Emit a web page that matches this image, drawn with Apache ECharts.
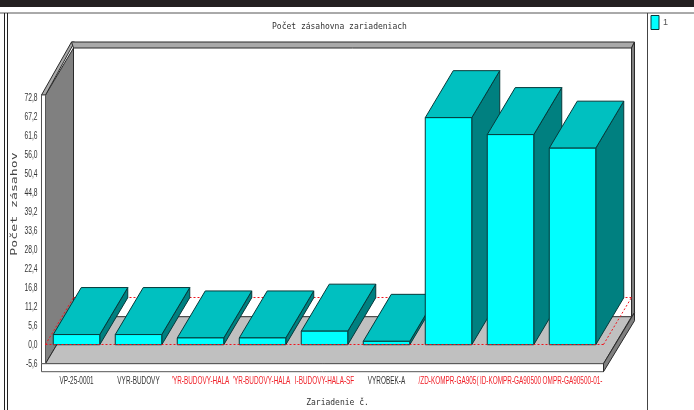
<!DOCTYPE html>
<html>
<head>
<meta charset="utf-8">
<style>html,body{margin:0;padding:0;background:#fff}#chart{width:694px;height:410px}</style>
<script src="https://cdn.jsdelivr.net/npm/echarts@6/dist/echarts.min.js"></script>
</head>
<body>
<div id="chart"></div>
<script>
// Device names as printed under the axis
const categories = ["VP-25-0001", "VYR-BUDOVY", "'YR-BUDOVY-HALA", "'YR-BUDOVY-HALA ", "I-BUDOVY-HALA-SF", "VYROBEK-A", "/ZD-KOMPR-GA905(", "ID-KOMPR-GA90500", "OMPR-GA90500-01-"];
// Number of call-outs per device
const values = [3, 3, 2, 2, 4, 1, 67, 62, 58];
// Red marks devices flagged in the source system
const labelColors = ["#333", "#333", "#f0222a", "#f0222a", "#f0222a", "#333", "#f0222a", "#f0222a", "#f0222a"];
const yTicks = [-5.6, 0, 5.6, 11.2, 16.8, 22.4, 28, 33.6, 39.2, 44.8, 50.4, 56, 61.6, 67.2, 72.8];
const seriesName = "1";
const chartTitle = "Počet zásahovna zariadeniach";
const xTitle = "Zariadenie č.";
const yTitle = "Počet zásahov";
const yMin = -5.6, yMax = 72.8, yStep = 5.6;

// Oblique projection of the box
const DEPTH_X = 28, DEPTH_Y = -47;
const COL = { front: "#00ffff", top: "#00c0c0", side: "#008080", edge: "#06393a",
  wall: "#808080", floor: "#c0c0c0", rim: "#a9a9a9", ink: "#333", frame: "#2a2a2a", zero: "#f0141e" };
const SANS = '"Liberation Sans",sans-serif';
const MONO = '"DejaVu Sans Mono","Liberation Mono",monospace';

const poly = (points, fill, z2, stroke) => ({
  type: "polygon", z2: z2 || 0, shape: { points },
  style: { fill: fill, stroke: stroke || COL.edge, lineWidth: 1 }
});
const line = (x1, y1, x2, y2, stroke, z2, dash, w) => ({
  type: "line", z2: z2 || 0, shape: { x1, y1, x2, y2 },
  style: { stroke, lineWidth: w || 1, lineDash: dash || null }
});
const crisp = v => Math.round(v - 0.5) + 0.5;

// Back wall, side wall, floor and the dashed zero plane
function renderBox(params, api) {
  const g = params.coordSys;
  const L = g.x, R = g.x + g.width, T = g.y - 3, B = g.y + g.height;
  const dx = DEPTH_X, dy = DEPTH_Y;
  const zero = crisp(api.coord([0, 0])[1]);
  const rim = 3, strip = 4, base = 8, f = COL.frame, z = COL.zero;
  return { type: "group", children: [
    poly([[L, T], [L + dx, T + dy], [L + dx, B + dy], [L, B]], COL.wall, 1, f),
    poly([[L - strip, T], [L + dx - strip + 2, T + dy - 6], [L + dx + 1, T + dy - 6], [L, T]], COL.rim, 2, f),
    poly([[L + dx - 2, T + dy - 6], [R + dx + rim, T + dy - 6], [R + dx, T + dy], [L + dx, T + dy]], COL.rim, 2, f),
    poly([[R + dx, T + dy], [R + dx + rim, T + dy - 6], [R + dx + rim, B + dy - 4], [R + dx, B + dy]], COL.wall, 2, f),
    poly([[L, B], [R, B], [R + dx, B + dy], [L + dx, B + dy]], COL.floor, 3, f),
    poly([[L - strip, T], [L, T], [L, B], [L - strip, B]], "#fff", 3, "#555"),
    poly([[L - strip, B], [R, B], [R, B + base], [L - strip, B + base]], "#fff", 4, "#555"),
    poly([[R, B], [R + dx + rim, B + dy - 4], [R + dx + rim, B + dy + 4], [R, B + base]], COL.wall, 4, f),
    line(L, zero, L + dx, zero + dy, z, 5, [2, 2]),
    line(L + dx, zero + dy, R + dx, zero + dy, z, 5, [2, 2]),
    line(R, zero, R + dx, zero + dy, z, 5, [2, 2])
  ]};
}

// One solid bar: front face plus projected top and side
function renderBar(params, api) {
  const i = api.value(0);
  const [cx, y1] = api.coord([i, api.value(1)]);
  const y0 = api.coord([i, 0])[1];
  const band = api.size([1, 0])[0];
  const w = band * 0.75;
  const x0 = cx - w / 2, x1 = cx + w / 2;
  const dx = DEPTH_X, dy = DEPTH_Y;
  return { type: "group", children: [
    poly([[x1, y1], [x1 + dx, y1 + dy], [x1 + dx, y0 + dy], [x1, y0]], COL.side, 1),
    poly([[x0, y1], [x0 + dx, y1 + dy], [x1 + dx, y1 + dy], [x1, y1]], COL.top, 2),
    poly([[x0, y1], [x1, y1], [x1, y0], [x0, y0]], COL.front, 3)
  ]};
}

// Dashed front edge of the zero plane, over the bars
function renderFrontEdge(params, api) {
  const g = params.coordSys;
  const zero = crisp(api.coord([0, 0])[1]);
  return line(g.x, zero, g.x + g.width, zero, COL.zero, 1, [2, 2]);
}

// Condensed tick labels; the machine has no narrow face, so the text is squeezed
function renderCategoryLabel(params, api) {
  const i = api.value(0);
  const g = params.coordSys;
  return { type: "text", x: api.coord([i, 0])[0], y: g.y + g.height + 17, scaleX: 0.64, scaleY: 1.12,
    style: { text: categories[i], fill: labelColors[i], font: "10px " + SANS, align: "center", verticalAlign: "middle" } };
}
function renderValueLabel(params, api) {
  const v = api.value(1);
  const g = params.coordSys;
  return { type: "text", x: g.x - 8, y: api.coord([0, v])[1], scaleX: 0.67, scaleY: 1.12,
    style: { text: v.toFixed(1).replace(".", ","), fill: COL.ink, font: "10px " + SANS, align: "right", verticalAlign: "middle" } };
}

const chart = echarts.init(document.getElementById("chart"), null, { renderer: "canvas" });
chart.setOption({
  animation: false,
  backgroundColor: "#fff",
  grid: { left: 45.5, top: 98, width: 558, height: 265.7, containLabel: false, outerBoundsMode: "none" },
  title: {
    text: chartTitle, left: 272, top: 23, padding: 0,
    textStyle: { fontFamily: MONO, fontSize: 8, fontWeight: "normal", color: COL.ink }
  },
  xAxis: {
    type: "category", data: categories, name: xTitle, nameLocation: "middle", nameGap: 35,
    nameTextStyle: { fontFamily: MONO, fontSize: 8, color: COL.ink, padding: [0, 0, 0, 26] },
    axisLine: { show: false },
    axisTick: { alignWithLabel: true, length: 8, lineStyle: { color: "#333" } },
    axisLabel: { show: false },
    z: 10
  },
  yAxis: {
    type: "value", min: yMin, max: yMax, interval: yStep,
    splitLine: { show: false },
    axisLine: { show: false, onZero: false },
    axisTick: { length: 4, lineStyle: { color: "#222" } },
    axisLabel: { show: false },
    z: 10
  },
  series: [
    { type: "custom", name: "box", silent: true, clip: false, z: 1, renderItem: renderBox, data: [[0, 0]], encode: { x: 0, y: 1 } },
    { type: "custom", name: seriesName, clip: false, z: 2, renderItem: renderBar,
      data: values.map((v, i) => [i, v]), encode: { x: 0, y: 1 } },
    { type: "custom", name: "edge", silent: true, clip: false, z: 3, renderItem: renderFrontEdge, data: [[0, 0]], encode: { x: 0, y: 1 } },
    { type: "custom", name: "categoryLabels", silent: true, clip: false, z: 11, renderItem: renderCategoryLabel,
      data: categories.map((c, i) => [i, 0]), encode: { x: 0, y: 1 } },
    { type: "custom", name: "valueLabels", silent: true, clip: false, z: 11, renderItem: renderValueLabel,
      data: yTicks.map(t => [0, t]), encode: { x: 0, y: 1 } }
  ],
  legend: {
    show: true, data: [{ name: seriesName, icon: "rect", itemStyle: { color: COL.front, borderColor: COL.edge, borderWidth: 1 } }],
    left: 650.5, top: 15, itemWidth: 8, itemHeight: 14, itemGap: 4, padding: 0,
    textStyle: { fontFamily: SANS, fontSize: 9, color: "#555", padding: [0, 0, 0, -1] }
  },
  graphic: [
    { type: "rect", shape: { x: 0, y: 0, width: 694, height: 7 }, style: { fill: "#231f20" }, z: 20 },
    { type: "line", shape: { x1: 0, y1: 13, x2: 694, y2: 13 }, style: { stroke: "#555", lineWidth: 1 }, z: 20 },
    { type: "line", shape: { x1: 4.5, y1: 13, x2: 4.5, y2: 410 }, style: { stroke: "#222", lineWidth: 1 }, z: 20 },
    { type: "line", shape: { x1: 7.5, y1: 13, x2: 7.5, y2: 410 }, style: { stroke: "#222", lineWidth: 1 }, z: 20 },
    { type: "line", shape: { x1: 647.5, y1: 13, x2: 647.5, y2: 410 }, style: { stroke: "#444", lineWidth: 1 }, z: 20 },
    // Axis caption, stretched along its reading direction
    { type: "text", x: 15, y: 204, rotation: Math.PI / 2, scaleX: 1.65, z: 20,
      style: { text: yTitle, fill: "#444", font: "8px " + MONO, align: "center", verticalAlign: "middle" } }
  ]
});
</script>
</body>
</html>
